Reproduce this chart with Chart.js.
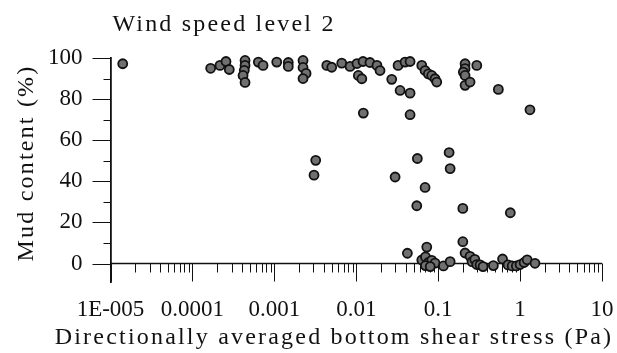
<!DOCTYPE html>
<html>
<head>
<meta charset="utf-8">
<script src="https://cdn.jsdelivr.net/npm/chart.js@4.4.1/dist/chart.umd.min.js"></script>
<style>
  html, body { margin: 0; padding: 0; background: #fff; }
  #wrap { position: relative; width: 617px; height: 353px; }
</style>
</head>
<body>
<div id="wrap"><canvas id="chart"></canvas></div>
<script>
const title  = "Wind speed level 2"
const xTitle = "Directionally averaged bottom shear stress (Pa)"
const yTitle = "Mud content (%)"

const xTicks      = [1e-5, 1e-4, 1e-3, 1e-2, 1e-1, 1, 10]
const xTickLabels = ["1E-005", "0.0001", "0.001", "0.01", "0.1", "1", "10"]
const yTicks      = [0, 20, 40, 60, 80, 100]
const yMinorTicks = [10, 30, 50, 70, 90]

// bottom shear stress (Pa)
const stress = [
  1.41e-5, 1.67e-4, 2.17e-4, 2.57e-4, 2.82e-4, 4.39e-4, 4.39e-4, 4.3e-4, 4.15e-4, 4.39e-4,
  6.38e-4, 7.28e-4, 1.07e-3, 1.48e-3, 1.48e-3, 2.24e-3, 2.24e-3, 2.44e-3, 2.24e-3, 3.2e-3,
  3.05e-3, 4.37e-3, 5.02e-3, 6.65e-3, 8.4e-3, 0.0102, 0.0121, 0.0147, 0.0179, 0.0195,
  0.0106, 0.0117, 0.0122, 0.0271, 0.0324, 0.0394, 0.0454, 0.0343, 0.0454, 0.0454,
  0.0631, 0.0692, 0.0759, 0.0835, 0.0916, 0.0961, 0.213, 0.213, 0.203, 0.213,
  0.296, 0.213, 0.245, 0.543, 1.32, 0.0298, 0.0557, 0.136, 0.14, 0.0692,
  0.0548, 0.2, 0.76, 0.2, 0.0421, 0.0726, 0.0631, 0.07, 0.0759, 0.0835,
  0.0916, 0.07, 0.08, 0.116, 0.14, 0.213, 0.245, 0.259, 0.28, 0.296,
  0.325, 0.353, 0.472, 0.611, 0.713, 0.8, 0.9, 1.0, 1.12, 1.22, 1.52
]
// mud content (%)
const mud = [
  97.2, 95.0, 96.4, 98.3, 94.4, 98.8, 96.4, 94.0, 91.5, 88.1,
  98.0, 96.4, 98.0, 97.8, 95.9, 98.8, 95.4, 92.5, 90.0, 50.2,
  43.0, 96.4, 95.5, 97.5, 95.9, 97.3, 98.3, 97.8, 96.4, 93.9,
  91.5, 89.9, 73.2, 89.6, 96.4, 98.0, 98.3, 84.2, 82.9, 72.4,
  96.4, 93.9, 92.3, 91.5, 89.9, 88.3, 97.2, 94.8, 93.1, 91.5,
  96.4, 86.7, 88.3, 84.7, 74.8, 42.1, 51.1, 54.0, 46.2, 37.0,
  28.1, 26.8, 24.7, 10.6, 5.0, 8.0, 1.7, 3.2, 0.5, 1.5,
  0.2, -1.0, -1.5, -1.2, 0.9, 5.1, 3.5, 0.9, 2.0, -0.5,
  -0.7, -1.5, -1.0, 2.2, -0.7, -1.2, -1.2, -0.5, 0.5, 1.8, 0.1
]

const points = stress.map((s, i) => ({ x: s, y: mud[i] }))

const INK   = '#111'
const SERIF = '"Liberation Serif", "Times New Roman", serif'

// axis line at y=0, tick marks and spaced-out titles
const decor = {
  id: 'decor',
  beforeDatasetsDraw(chart) {
    const { ctx, chartArea: a, scales: { x, y } } = chart
    const y0 = y.getPixelForValue(0)
    ctx.save()
    ctx.strokeStyle = INK
    ctx.lineWidth = 1.5
    ctx.beginPath()
    ctx.moveTo(a.left, y0); ctx.lineTo(a.right, y0)
    ctx.stroke()

    ctx.lineWidth = 1
    ctx.beginPath()
    for (let d = -5; d <= 1; d++) {
      const px = Math.round(x.getPixelForValue(Math.pow(10, d))) + 0.5
      ctx.moveTo(px, y0); ctx.lineTo(px, y0 + 18)
      if (d === 1) break
      for (let k = 2; k <= 9; k++) {
        const mx = Math.round(x.getPixelForValue(k * Math.pow(10, d))) + 0.5
        ctx.moveTo(mx, y0); ctx.lineTo(mx, y0 + 9)
      }
    }
    yTicks.forEach(v => {
      const py = Math.round(y.getPixelForValue(v)) + 0.5
      ctx.moveTo(a.left - 18, py); ctx.lineTo(a.left, py)
    })
    yMinorTicks.forEach(v => {
      const py = Math.round(y.getPixelForValue(v)) + 0.5
      ctx.moveTo(a.left - 7, py); ctx.lineTo(a.left, py)
    })
    ctx.stroke()
    ctx.restore()
  },
  afterDraw(chart) {
    const { ctx } = chart
    ctx.save()
    ctx.fillStyle = INK
    ctx.font = '24px ' + SERIF
    ctx.letterSpacing = '2.2px'
    ctx.textAlign = 'center'
    ctx.textBaseline = 'alphabetic'
    ctx.fillText(title, 224, 31)
    ctx.fillText(xTitle, 334, 344)
    ctx.translate(33, 163)
    ctx.rotate(-Math.PI / 2)
    ctx.fillText(yTitle, 0, 0)
    ctx.restore()
  }
}

new Chart(document.getElementById('chart'), {
  type: 'scatter',
  data: {
    datasets: [{
      data: points,
      pointRadius: 4.5,
      pointHoverRadius: 4.5,
      backgroundColor: '#707070',
      borderColor: INK,
      borderWidth: 1.8,
      clip: false
    }]
  },
  plugins: [decor],
  options: {
    responsive: true,
    maintainAspectRatio: false,
    animation: false,
    layout: { padding: { top: 58, right: 15, left: 0, bottom: 0 } },
    plugins: { legend: { display: false }, tooltip: { enabled: false } },
    scales: {
      x: {
        type: 'logarithmic',
        min: 1e-5,
        max: 10,
        afterBuildTicks: s => { s.ticks = xTicks.map(v => ({ value: v, major: true })) },
        afterFit: s => { s.height = 71; s.paddingLeft = 0; s.paddingRight = 0 },
        grid: { display: false, drawTicks: false },
        border: { display: false },
        ticks: {
          autoSkip: false,
          maxRotation: 0,
          padding: 14,
          color: INK,
          font: { family: SERIF, size: 23 },
          callback: (v, i) => xTickLabels[i]
        }
      },
      y: {
        min: -9,
        max: 100,
        afterBuildTicks: s => { s.ticks = yTicks.map(v => ({ value: v })) },
        afterFit: s => { s.width = 110.5; s.paddingTop = 0; s.paddingBottom = 0 },
        grid: { display: false, drawTicks: false },
        border: { display: true, color: INK, width: 1.8 },
        ticks: {
          padding: 28,
          color: INK,
          font: { family: SERIF, size: 23 },
          callback: v => String(v)
        }
      }
    }
  }
})
</script>
</body>
</html>
